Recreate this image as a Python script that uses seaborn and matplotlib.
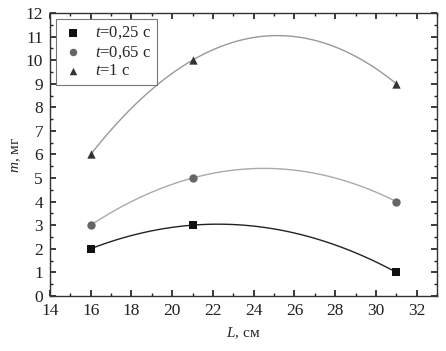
import pandas as pd
import matplotlib
matplotlib.use("Agg")
import matplotlib.pyplot as plt
import seaborn as sns
from matplotlib.ticker import MultipleLocator

# data
lengths = [16, 21, 31]
m_025 = [2, 3, 1]
m_065 = [3, 5, 4]
m_1 = [6, 10, 9]
labels = ["$t$=0,25 с", "$t$=0,65 с", "$t$=1 с"]

sns.set_theme(style="ticks")
plt.rcParams['font.family'] = ['Liberation Serif', 'DejaVu Serif']
plt.rcParams['mathtext.fontset'] = 'custom'
plt.rcParams['mathtext.rm'] = 'Liberation Serif'
plt.rcParams['mathtext.it'] = 'Liberation Serif:italic'

series = [
    (m_025, labels[0], "s", "#111111", "#222222"),
    (m_065, labels[1], "o", "#666666", "#aaaaaa"),
    (m_1, labels[2], "^", "#333333", "#999999"),
]

fig = plt.figure(figsize=(4.46, 3.51), dpi=100)
ax = fig.add_axes([0.112, 0.157, 0.868, 0.806])

for vals, lab, mk, mcol, lcol in series:
    df = pd.DataFrame({"L": lengths, "m": vals})
    # quadratic fit line through the points
    sns.regplot(data=df, x="L", y="m", order=2, ci=None, scatter=False,
                line_kws={"color": lcol, "lw": 1.0}, ax=ax)
    sns.scatterplot(data=df, x="L", y="m", marker=mk, color=mcol, s=36,
                    edgecolor=mcol, linewidth=0, label=lab, ax=ax, zorder=3)

ax.set_xlim(14, 33)
ax.set_ylim(0, 12)
ax.xaxis.set_major_locator(MultipleLocator(2))
ax.xaxis.set_minor_locator(MultipleLocator(1))
ax.yaxis.set_major_locator(MultipleLocator(1))
ax.yaxis.set_minor_locator(MultipleLocator(0.5))
ax.tick_params(which="both", direction="in", top=True, right=True,
               labelsize=12.5, colors="#222222")
ax.tick_params(axis="x", pad=5)
ax.tick_params(axis="y", pad=5)
ax.tick_params(which="major", length=4)
ax.tick_params(which="minor", length=2)
for sp in ax.spines.values():
    sp.set_color("#333333")
    sp.set_linewidth(1.0)

ax.set_xlabel("$L$, см", fontsize=11, labelpad=5)
ax.set_ylabel("$m$, мг", fontsize=11, labelpad=2)

leg = ax.legend(loc="upper left", fontsize=12, frameon=True, fancybox=False,
                edgecolor="#555555", handletextpad=0.6, borderpad=0.35,
                labelspacing=0.15, handlelength=1.4, markerscale=0.9,
                borderaxespad=0.35)
leg.get_frame().set_linewidth(0.8)

fig.savefig("out.png", dpi=100)
